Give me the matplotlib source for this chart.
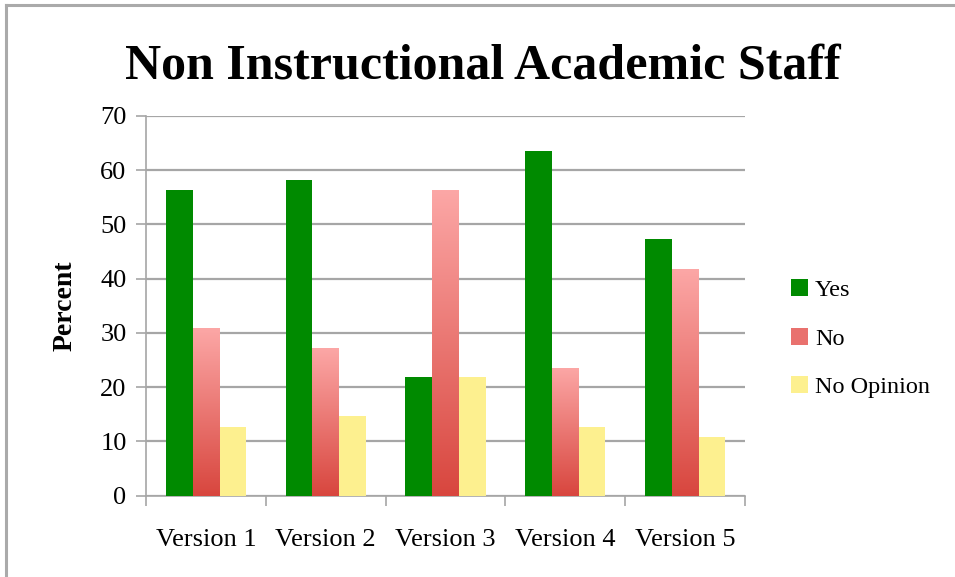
import numpy as np
import matplotlib.pyplot as plt
from matplotlib.colors import LinearSegmentedColormap
from matplotlib.patches import Patch
from matplotlib.lines import Line2D

versions = ['Version 1', 'Version 2', 'Version 3', 'Version 4', 'Version 5']
yes = [56.4, 58.2, 21.8, 63.5, 47.3]
no = [30.9, 27.2, 56.4, 23.6, 41.7]
no_opinion = [12.6, 14.7, 21.8, 12.7, 10.9]

green = '#008a00'
yellow = '#fdf08f'
red_top = '#fca7a6'
red_bottom = '#d8463e'
grid_col = '#a6a6a6'

plt.rcParams['font.family'] = ['Liberation Serif', 'DejaVu Serif']

fig = plt.figure(figsize=(9.55, 5.77), dpi=100)
ax = fig.add_axes([0.1529, 0.141, 0.6271, 0.658])

x = np.arange(len(versions))
w = 0.223
ax.bar(x - w, yes, w, color=green, zorder=3)
red_bars = ax.bar(x, no, w, facecolor='none', edgecolor='none', zorder=3)
ax.bar(x + w, no_opinion, w, color=yellow, zorder=3)

# vertical gradient for the "No" bars, light at the top, dark at the bottom
cmap = LinearSegmentedColormap.from_list('reds', [red_bottom, red_top])
grad = np.linspace(0, 1, 256).reshape(-1, 1)
for b in red_bars:
    x0, y0 = b.get_x(), b.get_y()
    im = ax.imshow(grad, cmap=cmap, origin='lower', aspect='auto',
                   extent=[x0, x0 + b.get_width(), y0, y0 + b.get_height()],
                   zorder=3, interpolation='bilinear')
    im.set_clip_path(b)

ax.set_xlim(-0.5, len(versions) - 0.5)
ax.set_ylim(0, 70)
ax.set_yticks(range(0, 71, 10))
ax.set_xticks(x)
ax.set_xticklabels(versions, fontsize=19)
ax.set_xticks(np.arange(-0.5, len(versions)), minor=True)
ax.tick_params(axis='x', which='major', length=0, pad=24)
ax.tick_params(axis='x', which='minor', length=7, width=1.2, color=grid_col, direction='out')
ax.tick_params(axis='y', length=7, width=1.2, color=grid_col, labelsize=19, pad=7)
ax.yaxis.grid(True, color=grid_col, linewidth=1.6, zorder=0)
ax.set_axisbelow(True)
for s in ['top', 'right']:
    ax.spines[s].set_visible(False)
for s in ['left', 'bottom']:
    ax.spines[s].set_color(grid_col)
    ax.spines[s].set_linewidth(1.2)

ax.set_ylabel('Percent', fontsize=20, fontweight='bold', labelpad=16)

fig.suptitle('Non Instructional Academic Staff', fontsize=36, fontweight='bold',
             x=0.506, y=0.925)

handles = [Patch(facecolor=green), Patch(facecolor='#e9716e'), Patch(facecolor=yellow)]
fig.legend(handles, ['Yes', 'No', 'No Opinion'], loc='center left',
           bbox_to_anchor=(0.805, 0.413), frameon=False, fontsize=17.5,
           handlelength=0.7, handleheight=0.7, handletextpad=0.3, labelspacing=1.1)

# light grey frame on the top and left edges
fig.add_artist(Line2D([0.0063, 1.0], [0.9913, 0.9913], color='#aaaaaa', lw=2.2))
fig.add_artist(Line2D([0.0063, 0.0063], [0.0, 0.9913], color='#aaaaaa', lw=2.2))

fig.savefig('out.png', dpi=100, facecolor='white')
